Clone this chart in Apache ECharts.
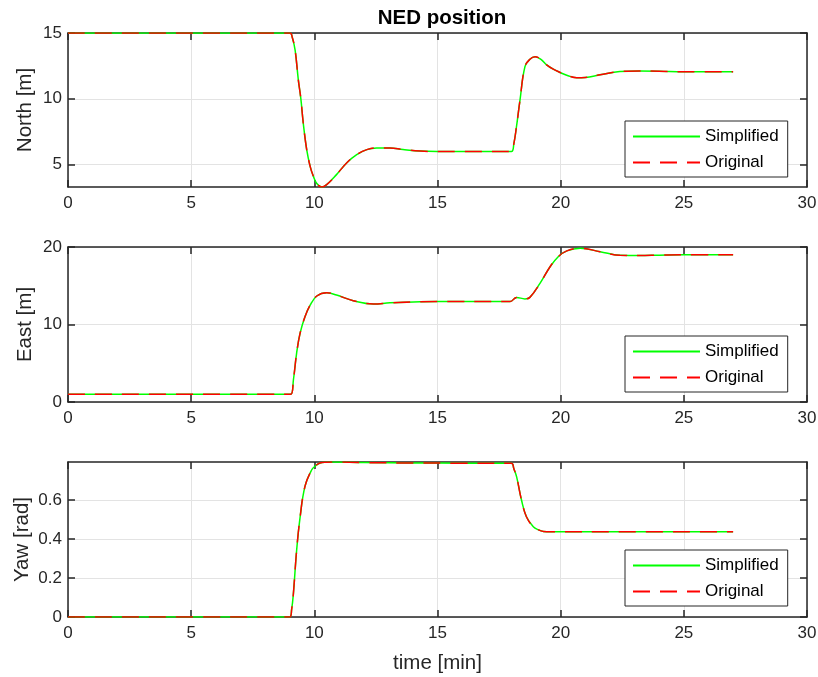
<!DOCTYPE html>
<html style="height: 100%">
<head>
    <meta charset="utf-8">
    <title>NED position</title>
    <script src="https://cdn.jsdelivr.net/npm/echarts@6/dist/echarts.min.js"></script>
</head>
<body style="height: 100%; margin: 0; background: #fff">
    <div id="main" style="width: 818px; height: 677px"></div>
    <script type="text/javascript">
        // 数据
        var timeNorth = [0, 9.01, 9.1, 9.22, 9.35, 9.45, 9.55, 9.69, 9.83, 9.96, 10.1, 10.3, 10.5, 10.9, 11.31, 11.72, 12.13, 12.53, 13.07, 13.6, 14.3, 15.0, 16.0, 18.0, 18.1, 18.2, 18.35, 18.55, 18.75, 18.96, 19.2, 19.43, 19.7, 19.98, 20.3, 20.65, 21.0, 21.6, 22.4, 23.2, 24.0, 25.0, 27.0];
        var north = [15, 15, 14.7, 13.7, 11.44, 10.05, 8.16, 6.14, 4.87, 4.11, 3.56, 3.3, 3.48, 4.24, 5.13, 5.76, 6.14, 6.27, 6.27, 6.15, 6.03, 6.0, 6.0, 6.0, 6.6, 7.8, 9.92, 12.45, 13.0, 13.2, 13.0, 12.58, 12.25, 12.0, 11.75, 11.6, 11.62, 11.82, 12.07, 12.12, 12.1, 12.05, 12.05];

        var timeEast = [0, 9.04, 9.15, 9.28, 9.42, 9.62, 9.83, 10.1, 10.5, 10.9, 11.58, 12.4, 13.07, 14.3, 15.0, 17.95, 18.21, 18.55, 18.75, 19.16, 19.57, 19.9, 20.25, 20.79, 21.6, 22.41, 23.2, 24.0, 25.0, 27.0];
        var east = [1, 1, 2.84, 6.28, 8.86, 11.0, 12.5, 13.68, 14.1, 13.8, 13.07, 12.65, 12.8, 12.95, 12.97, 12.97, 13.5, 13.3, 13.5, 15.3, 17.45, 18.75, 19.5, 19.83, 19.4, 18.93, 18.9, 18.95, 19.0, 19.0];

        var timeYaw = [0, 9.0, 9.08, 9.15, 9.28, 9.42, 9.62, 9.89, 10.05, 10.23, 10.5, 10.77, 12, 14, 16, 18.0, 18.1, 18.21, 18.41, 18.61, 18.89, 19.1, 19.3, 19.6, 20, 22, 27];
        var yaw = [0, 0, 0.04, 0.12, 0.34, 0.51, 0.67, 0.754, 0.776, 0.79, 0.794, 0.795, 0.792, 0.79, 0.789, 0.788, 0.76, 0.72, 0.6, 0.514, 0.463, 0.447, 0.439, 0.437, 0.437, 0.437, 0.437];

        var xTicks = [0, 5, 10, 15, 20, 25, 30];
        var northTicks = [5, 10, 15];
        var eastTicks = [0, 10, 20];
        var yawTicks = [0, 0.2, 0.4, 0.6];

        var seriesNames = ['Simplified', 'Original'];

        function pairs(t, v) {
            return t.map(function (x, i) { return [x, v[i]]; });
        }

        var font = 'Liberation Sans, Arial, Helvetica, sans-serif';
        var axisColor = '#262626';

        var grids = [
            { left: 68, right: 11, top: 33, height: 154, outerBoundsMode: 'none' },
            { left: 68, right: 11, top: 247, height: 155, outerBoundsMode: 'none' },
            { left: 68, right: 11, top: 462, height: 155, outerBoundsMode: 'none' }
        ];

        var xAxes = [];
        var yAxes = [];
        var yConf = [
            { name: 'North [m]', min: 3.3, max: 15, ticks: northTicks, gap: 32 },
            { name: 'East [m]', min: 0, max: 20, ticks: eastTicks, gap: 32 },
            { name: 'Yaw [rad]', min: 0, max: 0.795, ticks: yawTicks, gap: 35 }
        ];

        for (var g = 0; g < 3; g++) {
            // 下方 x 轴
            xAxes.push({
                type: 'value', gridIndex: g, min: 0, max: 30, position: 'bottom',
                axisLine: { onZero: false, lineStyle: { color: axisColor, width: 1.5 } },
                axisTick: { inside: true, length: 7, customValues: xTicks, lineStyle: { color: axisColor, width: 1.5 } },
                axisLabel: { customValues: xTicks, color: axisColor, fontSize: 17, fontFamily: font, margin: 8 },
                splitLine: { show: true, lineStyle: { color: '#e3e3e3', width: 1 } },
                name: g === 2 ? 'time [min]' : '',
                nameLocation: 'middle', nameGap: 36,
                nameTextStyle: { color: axisColor, fontSize: 20.5, fontFamily: font }
            });
            // 上方镜像轴
            xAxes.push({
                type: 'value', gridIndex: g, min: 0, max: 30, position: 'top',
                axisLine: { onZero: false, lineStyle: { color: axisColor, width: 1.5 } },
                axisTick: { inside: true, length: 7, customValues: xTicks, lineStyle: { color: axisColor, width: 1.5 } },
                axisLabel: { show: false },
                splitLine: { show: false }
            });
            var c = yConf[g];
            yAxes.push({
                type: 'value', gridIndex: g, min: c.min, max: c.max, position: 'left',
                axisLine: { show: true, onZero: false, lineStyle: { color: axisColor, width: 1.5 } },
                axisTick: { show: true, inside: true, length: 7, customValues: c.ticks, lineStyle: { color: axisColor, width: 1.5 } },
                axisLabel: { customValues: c.ticks, color: axisColor, fontSize: 17, fontFamily: font, margin: 6 },
                splitLine: { show: true, lineStyle: { color: '#e3e3e3', width: 1 } },
                name: c.name, nameLocation: 'middle', nameGap: c.gap, nameRotate: 90,
                nameMoveOverlap: false,
                nameTextStyle: { color: axisColor, fontSize: 20.5, fontFamily: font }
            });
            yAxes.push({
                type: 'value', gridIndex: g, min: c.min, max: c.max, position: 'right',
                axisLine: { show: true, onZero: false, lineStyle: { color: axisColor, width: 1.5 } },
                axisTick: { show: true, inside: true, length: 7, customValues: c.ticks, lineStyle: { color: axisColor, width: 1.5 } },
                axisLabel: { show: false },
                splitLine: { show: false }
            });
        }

        var datasets = [pairs(timeNorth, north), pairs(timeEast, east), pairs(timeYaw, yaw)];
        var series = [];
        datasets.forEach(function (d, g) {
            series.push({
                name: seriesNames[0], type: 'line', xAxisIndex: g * 2, yAxisIndex: g * 2,
                data: d, showSymbol: false, symbol: 'none', smooth: 0.4,
                lineStyle: { color: '#00ff00', width: 1.5 }, itemStyle: { color: '#00ff00' },
                animation: false, z: 2
            });
            series.push({
                name: seriesNames[1], type: 'line', xAxisIndex: g * 2, yAxisIndex: g * 2,
                data: d, showSymbol: false, symbol: 'none', smooth: 0.4,
                lineStyle: { color: '#ff0000', width: 1.5, type: [17, 10] }, itemStyle: { color: '#ff0000' },
                animation: false, z: 3
            });
        });

        var legendTops = [121, 336, 550];
        var legends = legendTops.map(function (t) {
            return {
                data: seriesNames, orient: 'vertical', left: 625, top: t,
                backgroundColor: '#fff', borderColor: axisColor, borderWidth: 1,
                padding: [7, 9, 6, 7], itemWidth: 67, itemHeight: 17, itemGap: 9,
                selectedMode: false,
                itemStyle: { opacity: 0 },
                textStyle: { color: '#000', fontSize: 17, fontFamily: font, lineHeight: 17 }
            };
        });

        var myChart = echarts.init(document.getElementById('main'));
        myChart.setOption({
            animation: false,
            title: {
                text: 'NED position', left: 437, top: 3, textAlign: 'center',
                textStyle: { fontSize: 20.5, fontWeight: 'bold', color: '#000', fontFamily: font }
            },
            grid: grids,
            xAxis: xAxes,
            yAxis: yAxes,
            legend: legends,
            series: series
        });
    </script>
</body>
</html>
